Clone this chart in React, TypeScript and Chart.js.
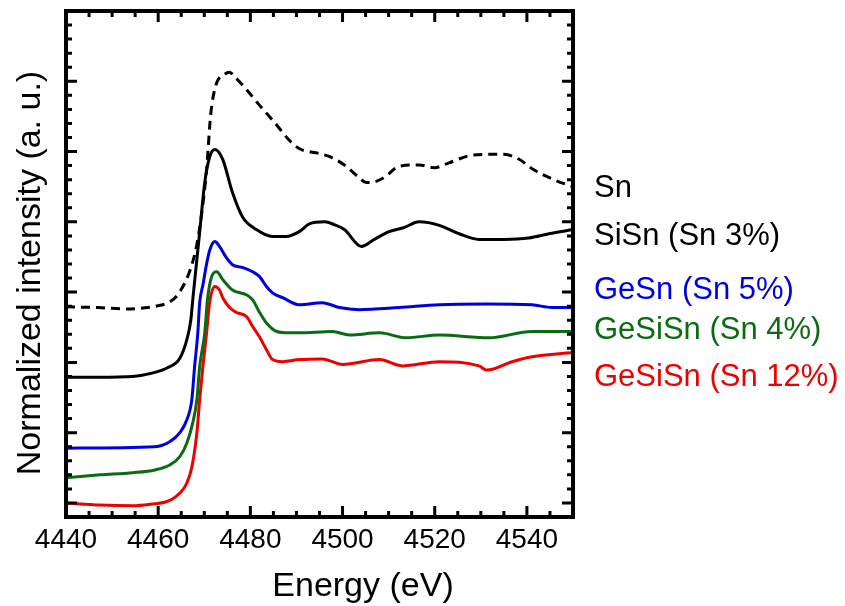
import React, { useEffect, useRef } from "react";
import { Chart, registerables } from "chart.js";

Chart.register(...registerables);

const FONT = '"Liberation Sans", Arial, sans-serif';

const seriesLabels = ["Sn", "SiSn (Sn 3%)", "GeSn (Sn 5%)", "GeSiSn (Sn 4%)", "GeSiSn (Sn 12%)"];
const seriesColors = ["#000000", "#000000", "#0000dd", "#0b6b12", "#ee0000"];

const energySn = [4440, 4447, 4453, 4459.5, 4462.5, 4464.2, 4466.8, 4468.4, 4469.5, 4470.5, 4471.4, 4472.5, 4474.4, 4475.5, 4476.5, 4478.8, 4482.1, 4485.3, 4488.6, 4490.7, 4495, 4497.1, 4500.4, 4503.6, 4505.2, 4507, 4509, 4512.3, 4516.6, 4519.9, 4523.1, 4527.4, 4531, 4535, 4538.3, 4541.5, 4545.8, 4550];
const valuesSn = [2.79, 2.78, 2.76, 2.8, 2.86, 2.96, 3.29, 3.68, 4.15, 4.74, 5.53, 5.94, 6.1, 6.13, 6.07, 5.91, 5.65, 5.41, 5.15, 5.04, 4.97, 4.93, 4.81, 4.63, 4.56, 4.57, 4.63, 4.79, 4.81, 4.77, 4.84, 4.94, 4.96, 4.96, 4.89, 4.74, 4.6, 4.5];

const energySiSn = [4440, 4447, 4454.5, 4458.2, 4461.9, 4464.7, 4466.2, 4467.1, 4467.5, 4469, 4470.1, 4471.2, 4472.3, 4474, 4476.1, 4478.3, 4481.3, 4484.8, 4487.8, 4490.6, 4492.8, 4496.1, 4498.2, 4500.4, 4504.1, 4506.9, 4510.1, 4513.4, 4516.6, 4521, 4525.3, 4529.6, 4535, 4540.4, 4544.8, 4550];
const valuesSiSn = [1.79, 1.79, 1.8, 1.84, 1.92, 2.06, 2.32, 2.61, 2.89, 3.85, 4.56, 4.93, 5.03, 4.89, 4.42, 4.07, 3.89, 3.79, 3.79, 3.86, 3.97, 4.0, 3.96, 3.89, 3.65, 3.75, 3.86, 3.92, 4.0, 3.95, 3.83, 3.75, 3.75, 3.77, 3.83, 3.89];

const energyGeSn = [4440, 4459.3, 4462.5, 4464.7, 4466.2, 4467.3, 4467.9, 4468.6, 4469, 4469.7, 4470.5, 4471.2, 4472.3, 4473.3, 4474.8, 4476.1, 4478.3, 4480.5, 4482, 4483.5, 4484.8, 4487, 4490.6, 4495.6, 4499.3, 4503.6, 4512.3, 4521, 4531.1, 4541.1, 4545.4, 4550];
const valuesGeSn = [0.78, 0.8, 0.87, 1.0, 1.18, 1.47, 1.94, 2.42, 2.85, 3.1, 3.4, 3.6, 3.72, 3.65, 3.49, 3.39, 3.35, 3.29, 3.22, 3.08, 2.99, 2.92, 2.82, 2.85, 2.78, 2.75, 2.78, 2.82, 2.83, 2.82, 2.78, 2.78];

const energyGeSiSn4 = [4440, 4447.4, 4454.5, 4459.3, 4462.5, 4464.7, 4466.2, 4467.5, 4468.4, 4469, 4470.1, 4470.7, 4471.6, 4472.7, 4474, 4476.1, 4479.2, 4480.5, 4482, 4483.5, 4485.7, 4488.5, 4490.6, 4497.8, 4501.5, 4508, 4513.8, 4521, 4531.8, 4541.1, 4550];
const valuesGeSiSn4 = [0.36, 0.4, 0.43, 0.47, 0.54, 0.66, 0.85, 1.14, 1.47, 1.94, 2.42, 2.9, 3.22, 3.29, 3.18, 3.03, 2.96, 2.89, 2.71, 2.56, 2.44, 2.42, 2.42, 2.44, 2.39, 2.42, 2.35, 2.39, 2.35, 2.44, 2.44];

const energyGeSiSn12 = [4440, 4447.4, 4454.5, 4459.3, 4461.4, 4463.2, 4464.7, 4466.2, 4467.3, 4468.4, 4469, 4469.7, 4470.5, 4471.2, 4472.3, 4473.3, 4474, 4475.5, 4477, 4479.2, 4480.5, 4482, 4483.5, 4484.8, 4487, 4490.6, 4495.6, 4500, 4508, 4512.9, 4521, 4529.6, 4531.3, 4536.8, 4541.1, 4550];
const valuesGeSiSn12 = [0.0, -0.03, -0.04, -0.01, 0.01, 0.06, 0.14, 0.28, 0.51, 1.0, 1.47, 1.94, 2.42, 2.87, 3.08, 3.03, 2.92, 2.78, 2.71, 2.65, 2.51, 2.36, 2.18, 2.04, 2.01, 2.04, 2.05, 1.97, 2.04, 1.95, 2.01, 1.95, 1.89, 2.01, 2.08, 2.14];

const xMin = 4440;
const xMax = 4550;
const xMajorStep = 20;
const xMinorStep = 5;
const yMin = -0.2;
const yMax = 7;
const yMajorStep = 1;
const yMinorStep = 0.2;

const xTitle = "Energy (eV)";
const yTitle = "Normalized intensity (a. u.)";

const labelBaselines = [197, 245, 299, 339, 386];

function pts(xs: number[], ys: number[]) {
  return xs.map((x, i) => ({ x, y: ys[i] }));
}

const framePlugin = {
  id: "framePlugin",
  afterDraw(chart: any) {
    const ctx = chart.ctx;
    const { left, right, top, bottom } = chart.chartArea;
    const xs = chart.scales.x;
    const ys = chart.scales.y;
    ctx.save();
    ctx.strokeStyle = "#000";
    ctx.lineCap = "butt";
    ctx.lineWidth = 3;
    const nX = Math.round((xMax - xMin) / xMinorStep);
    for (let i = 0; i <= nX; i++) {
      const v = xMin + i * xMinorStep;
      const r = (v - xMin) / xMajorStep;
      const major = Math.abs(r - Math.round(r)) < 1e-6;
      const len = major ? 11 : 6;
      const px = xs.getPixelForValue(v);
      ctx.beginPath();
      ctx.moveTo(px, bottom);
      ctx.lineTo(px, bottom - len);
      ctx.moveTo(px, top);
      ctx.lineTo(px, top + len);
      ctx.stroke();
    }
    const nY = Math.round((yMax - yMin) / yMinorStep);
    for (let i = 0; i <= nY; i++) {
      const v = yMin + i * yMinorStep;
      const major = Math.abs(v / yMajorStep - Math.round(v / yMajorStep)) < 1e-6;
      const len = major ? 11 : 6;
      const py = ys.getPixelForValue(v);
      ctx.beginPath();
      ctx.moveTo(left, py);
      ctx.lineTo(left + len, py);
      ctx.moveTo(right, py);
      ctx.lineTo(right - len, py);
      ctx.stroke();
    }
    ctx.lineWidth = 4;
    ctx.strokeRect(left, top, right - left, bottom - top);

    ctx.fillStyle = "#000";
    ctx.font = `34px ${FONT}`;
    ctx.textAlign = "center";
    ctx.textBaseline = "alphabetic";
    ctx.fillText(xTitle, 363, 596);
    ctx.save();
    ctx.translate(40, 273);
    ctx.rotate(-Math.PI / 2);
    ctx.fillText(yTitle, 0, 0);
    ctx.restore();

    ctx.font = `31px ${FONT}`;
    ctx.textAlign = "left";
    chart.data.datasets.forEach((ds: any, i: number) => {
      ctx.fillStyle = ds.borderColor;
      ctx.fillText(ds.label, 594, labelBaselines[i]);
    });
    ctx.restore();
  },
};

export default function App() {
  const ref = useRef<HTMLCanvasElement | null>(null);
  useEffect(() => {
    if (!ref.current) return;
    const data = [
      pts(energySn, valuesSn),
      pts(energySiSn, valuesSiSn),
      pts(energyGeSn, valuesGeSn),
      pts(energyGeSiSn4, valuesGeSiSn4),
      pts(energyGeSiSn12, valuesGeSiSn12),
    ];
    const chart = new Chart(ref.current, {
      type: "line",
      data: {
        datasets: data.map((d, i) => ({
          label: seriesLabels[i],
          data: d,
          borderColor: seriesColors[i],
          backgroundColor: seriesColors[i],
          borderWidth: 3,
          pointRadius: 0,
          fill: false,
          cubicInterpolationMode: "monotone" as const,
          borderDash: i === 0 ? [9, 6] : [],
        })),
      },
      options: {
        animation: false,
        responsive: false,
        events: [],
        layout: { padding: { left: 66, top: 11, right: 272, bottom: 0 } },
        plugins: { legend: { display: false }, tooltip: { enabled: false } },
        scales: {
          x: {
            type: "linear",
            min: xMin,
            max: xMax,
            grid: { display: false, drawTicks: false },
            border: { display: false },
            ticks: {
              stepSize: xMajorStep,
              includeBounds: false,
              autoSkip: false,
              maxRotation: 0,
              padding: 6,
              color: "#000",
              font: { family: FONT, size: 28 },
              callback: (v: any) => String(v),
            },
            afterFit: (scale: any) => {
              scale.height = 89;
            },
          },
          y: {
            type: "linear",
            min: yMin,
            max: yMax,
            display: false,
          },
        },
      },
      plugins: [framePlugin],
    });
    return () => chart.destroy();
  }, []);
  return (
    <div style={{ position: "fixed", left: 0, top: 0, width: 845, height: 606, background: "#fff" }}>
      <canvas ref={ref} width={845} height={606} />
    </div>
  );
}
